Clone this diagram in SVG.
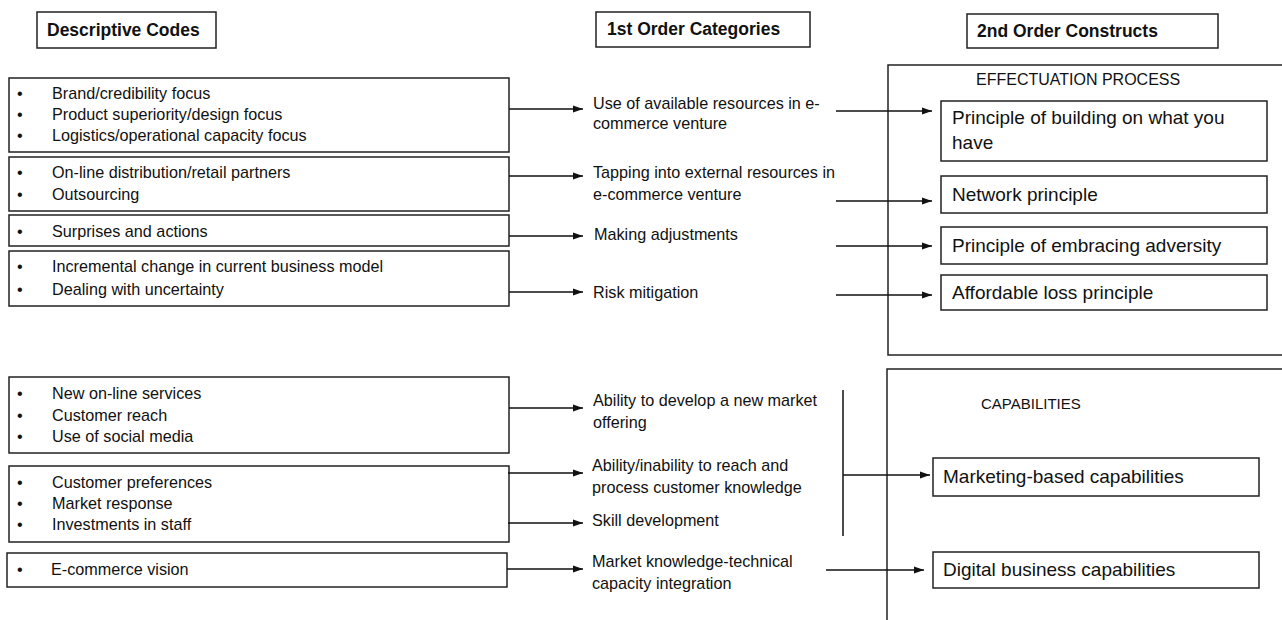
<svg xmlns="http://www.w3.org/2000/svg" width="1282" height="620" viewBox="0 0 1282 620">
<style>
.box{fill:#fff;stroke:#222;stroke-width:1.5}
.hdr{font-family:"Liberation Sans",Arial,sans-serif;font-weight:bold;font-size:17.5px;fill:#111}
.t{font-family:"Liberation Sans",Arial,sans-serif;font-size:16.2px;fill:#111}
.r{font-family:"Liberation Sans",Arial,sans-serif;font-size:19px;fill:#111}
.cap{font-family:"Liberation Sans",Arial,sans-serif;font-size:16px;fill:#111}
.ln{stroke:#111;stroke-width:1.5;fill:none}
</style>
<defs>
<marker id="ah" markerUnits="userSpaceOnUse" markerWidth="11" markerHeight="8" refX="10" refY="4" orient="auto">
<path d="M0,0.5 L10,4 L0,7.5 Z" fill="#111"/>
</marker>
</defs>
<rect width="1282" height="620" fill="#fff"/>

<g id="hdr-descriptive"><rect class="box" x="37" y="12" width="179" height="36"/><text class="hdr" x="47" y="36">Descriptive Codes</text></g>
<g id="hdr-first"><rect class="box" x="596" y="12" width="214" height="35"/><text class="hdr" x="607" y="35">1st Order Categories</text></g>
<g id="hdr-second"><rect class="box" x="967" y="14" width="251" height="34"/><text class="hdr" x="977" y="37">2nd Order Constructs</text></g>

<g id="code1"><rect class="box" x="9" y="78" width="500" height="74"/>
<text class="t" x="17" y="99">•</text><text class="t" x="52" y="99">Brand/credibility focus</text>
<text class="t" x="17" y="120">•</text><text class="t" x="52" y="120">Product superiority/design focus</text>
<text class="t" x="17" y="141">•</text><text class="t" x="52" y="141">Logistics/operational capacity focus</text></g>
<g id="code2"><rect class="box" x="9" y="157" width="500" height="54"/>
<text class="t" x="17" y="178">•</text><text class="t" x="52" y="178">On-line distribution/retail partners</text>
<text class="t" x="17" y="200">•</text><text class="t" x="52" y="200">Outsourcing</text></g>
<g id="code3"><rect class="box" x="9" y="215" width="500" height="31"/>
<text class="t" x="17" y="237">•</text><text class="t" x="52" y="237">Surprises and actions</text></g>
<g id="code4"><rect class="box" x="9" y="251" width="500" height="55"/>
<text class="t" x="17" y="272">•</text><text class="t" x="52" y="272">Incremental change in current business model</text>
<text class="t" x="17" y="295">•</text><text class="t" x="52" y="295">Dealing with uncertainty</text></g>
<g id="code5"><rect class="box" x="9" y="377" width="500" height="76"/>
<text class="t" x="17" y="399">•</text><text class="t" x="52" y="399">New on-line services</text>
<text class="t" x="17" y="421">•</text><text class="t" x="52" y="421">Customer reach</text>
<text class="t" x="17" y="442">•</text><text class="t" x="52" y="442">Use of social media</text></g>
<g id="code6"><rect class="box" x="9" y="466" width="500" height="76"/>
<text class="t" x="17" y="488">•</text><text class="t" x="52" y="488">Customer preferences</text>
<text class="t" x="17" y="509">•</text><text class="t" x="52" y="509">Market response</text>
<text class="t" x="17" y="530">•</text><text class="t" x="52" y="530">Investments in staff</text></g>
<g id="code7"><rect class="box" x="7" y="553" width="500" height="34"/>
<text class="t" x="17" y="575">•</text><text class="t" x="51" y="575">E-commerce vision</text></g>

<g id="cat1"><text class="t" x="593" y="109">Use of available resources in e-</text><text class="t" x="593" y="129">commerce venture</text></g>
<g id="cat2"><text class="t" x="593" y="178">Tapping into external resources in</text><text class="t" x="593" y="200">e-commerce venture</text></g>
<g id="cat3"><text class="t" x="594" y="240">Making adjustments</text></g>
<g id="cat4"><text class="t" x="593" y="298">Risk mitigation</text></g>
<g id="cat5"><text class="t" x="593" y="406">Ability to develop a new market</text><text class="t" x="593" y="428">offering</text></g>
<g id="cat6"><text class="t" x="592" y="471">Ability/inability to reach and</text><text class="t" x="592" y="493">process customer knowledge</text></g>
<g id="cat7"><text class="t" x="592" y="526">Skill development</text></g>
<g id="cat8"><text class="t" x="592" y="567">Market knowledge-technical</text><text class="t" x="592" y="589">capacity integration</text></g>

<g id="effectuation"><rect class="box" x="888" y="65" width="400" height="290"/>
<text class="cap" x="976" y="85">EFFECTUATION PROCESS</text></g>
<g id="c-building"><rect class="box" x="941" y="101" width="326" height="60"/><text class="r" x="952" y="124">Principle of building on what you</text><text class="r" x="952" y="149">have</text></g>
<g id="c-network"><rect class="box" x="941" y="176" width="326" height="37"/><text class="r" x="952" y="201">Network principle</text></g>
<g id="c-adversity"><rect class="box" x="941" y="227" width="326" height="37"/><text class="r" x="952" y="252">Principle of embracing adversity</text></g>
<g id="c-loss"><rect class="box" x="941" y="275" width="326" height="35"/><text class="r" x="952" y="299">Affordable loss principle</text></g>

<g id="capabilities"><rect class="box" x="887" y="369" width="400" height="260"/>
<text class="cap" x="981" y="409" style="font-size:15px">CAPABILITIES</text></g>
<g id="c-marketing"><rect class="box" x="933" y="458" width="326" height="38"/><text class="r" x="943" y="483">Marketing-based capabilities</text></g>
<g id="c-digital"><rect class="box" x="933" y="552" width="326" height="36"/><text class="r" x="943" y="576">Digital business capabilities</text></g>

<g id="connectors">
<path class="ln" marker-end="url(#ah)" d="M509,109 H583"/>
<path class="ln" marker-end="url(#ah)" d="M509,176 H583"/>
<path class="ln" marker-end="url(#ah)" d="M509,236 H583"/>
<path class="ln" marker-end="url(#ah)" d="M509,292 H583"/>
<path class="ln" marker-end="url(#ah)" d="M509,408 H583"/>
<path class="ln" marker-end="url(#ah)" d="M508,473 H583"/>
<path class="ln" marker-end="url(#ah)" d="M508,523 H583"/>
<path class="ln" marker-end="url(#ah)" d="M507,569 H583"/>
<path class="ln" marker-end="url(#ah)" d="M836,111 H932"/>
<path class="ln" marker-end="url(#ah)" d="M836,201 H932"/>
<path class="ln" marker-end="url(#ah)" d="M836,246 H932"/>
<path class="ln" marker-end="url(#ah)" d="M836,295 H932"/>
<path class="ln" d="M843,390 V536"/>
<path class="ln" marker-end="url(#ah)" d="M843,475 H930"/>
<path class="ln" marker-end="url(#ah)" d="M826,570 H924"/>
</g>
</svg>
